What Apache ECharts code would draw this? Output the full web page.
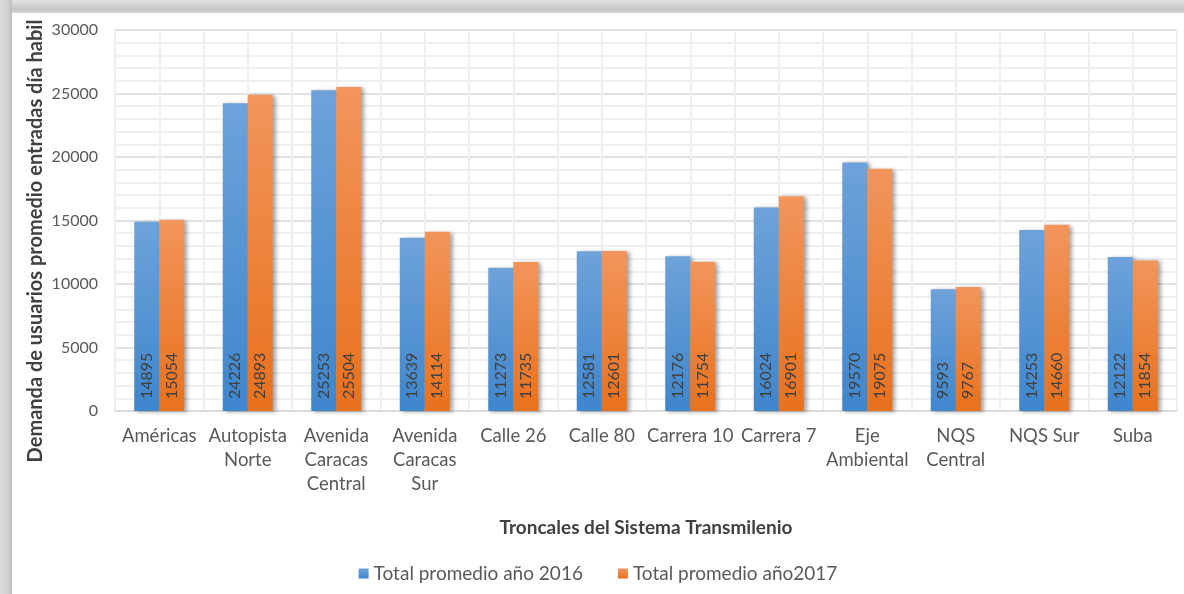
<!DOCTYPE html>
<html>
<head>
<meta charset="utf-8">
<script src="https://cdn.jsdelivr.net/npm/echarts@6/dist/echarts.min.js"></script>
<style>
  html, body { margin: 0; padding: 0; }
  body {
    width: 1184px; height: 594px; position: relative; overflow: hidden;
    background: linear-gradient(180deg, #e2e2e2 0px, #c4c4c4 10px, #d8d8d8 13px, #d8d8d8 100%);
  }
  .frame-left {
    position: absolute; left: 0; top: 0; width: 12px; height: 594px;
    background: linear-gradient(90deg, #dcdcdc 0px, #d0d0d0 8px, #bcbcbc 12px);
  }
  #chart {
    position: absolute; left: 12px; top: 13px; width: 1172px; height: 581px;
    background: #fff;
  }
</style>
</head>
<body>
<div class="frame-left"></div>
<div id="chart"></div>
<script>
// troncales
const categories = ['Américas', 'Autopista\nNorte', 'Avenida\nCaracas\nCentral', 'Avenida\nCaracas\nSur',
  'Calle 26', 'Calle 80', 'Carrera 10', 'Carrera 7', 'Eje\nAmbiental', 'NQS\nCentral', 'NQS Sur', 'Suba']
const total2016 = [14895, 24226, 25253, 13639, 11273, 12581, 12176, 16024, 19570, 9593, 14253, 12122]
const total2017 = [15054, 24893, 25504, 14114, 11735, 12601, 11754, 16901, 19075, 9767, 14660, 11854]
const seriesNames = ['Total promedio año 2016', 'Total promedio año2017']

const fontFam = 'Lato, "Open Sans", sans-serif'
const myChart = echarts.init(document.getElementById('chart'))

// half-category helper axis, only for the vertical grid lines
const halfCats = []
for (let i = 0; i < categories.length * 2; i++) halfCats.push('')

function barStyle (top, bottom) {
  return {
    color: new echarts.graphic.LinearGradient(0, 0, 0, 1, [
      { offset: 0, color: top },
      { offset: 1, color: bottom }
    ]),
    shadowColor: 'rgba(0,0,0,0.35)',
    shadowBlur: 4,
    shadowOffsetX: 3,
    shadowOffsetY: 1
  }
}

const dataLabel = {
  show: true,
  position: 'insideBottom',
  rotate: 90,
  align: 'left',
  verticalAlign: 'middle',
  distance: 12,
  color: '#404040',
  fontSize: 16,
  fontFamily: fontFam
}

const options = {
  animation: false,
  grid: { // plot area
    left: 103,
    right: 7,
    top: 17,
    bottom: 183
  },
  legend: {
    bottom: 6,
    left: 'center',
    itemWidth: 10,
    itemHeight: 10,
    itemGap: 35,
    icon: 'rect',
    textStyle: { color: '#595959', fontSize: 19, fontFamily: fontFam }
  },
  xAxis: [{
    type: 'category',
    data: categories,
    name: 'Troncales del Sistema Transmilenio',
    nameLocation: 'middle',
    nameGap: 107,
    nameTextStyle: { color: '#404040', fontSize: 19, fontWeight: 'bold', fontFamily: fontFam },
    axisLine: { show: true, lineStyle: { color: '#d9d9d9', width: 1.5 } },
    axisTick: { show: false },
    splitLine: { show: false },
    axisLabel: {
      interval: 0,
      color: '#595959',
      fontSize: 18.5,
      lineHeight: 24,
      margin: 13,
      fontFamily: fontFam
    }
  }, {
    type: 'category',
    data: halfCats,
    position: 'bottom',
    axisLine: { show: false },
    axisTick: { show: false },
    axisLabel: { show: false },
    splitLine: { show: true, interval: 0, lineStyle: { color: '#efefef', width: 2 } }
  }],
  yAxis: {
    type: 'value',
    min: 0,
    max: 30000,
    interval: 5000,
    axisLine: { show: false },
    axisTick: { show: false },
    axisLabel: {
      color: '#595959',
      fontSize: 16,
      margin: 17,
      fontFamily: fontFam,
      formatter: function (v) { return String(v) }
    },
    splitLine: { show: true, lineStyle: { color: '#d9d9d9', width: 1.5 } },
    minorTick: { show: false, splitNumber: 5 },
    minorSplitLine: { show: true, lineStyle: { color: '#efefef', width: 2 } }
  },
  graphic: [{
    type: 'text',
    x: 24,
    y: 228,
    rotation: Math.PI / 2,
    style: {
      text: 'Demanda de usuarios promedio entradas día habil',
      fill: '#404040',
      font: 'bold 20px ' + fontFam,
      align: 'center',
      verticalAlign: 'middle'
    }
  }],
  series: [{
    name: seriesNames[0],
    type: 'bar',
    data: total2016,
    barWidth: 25,
    barGap: '0%',
    itemStyle: barStyle('#6ea2da', '#3f86cc'),
    label: dataLabel,
    z: 3
  }, {
    name: seriesNames[1],
    type: 'bar',
    data: total2017,
    barWidth: 25,
    barGap: '0%',
    itemStyle: barStyle('#f2955c', '#e8711d'),
    label: dataLabel,
    z: 3
  }],
  color: ['#4a8fd6', '#ee7a2c']
}
myChart.setOption(options)
</script>
</body>
</html>
